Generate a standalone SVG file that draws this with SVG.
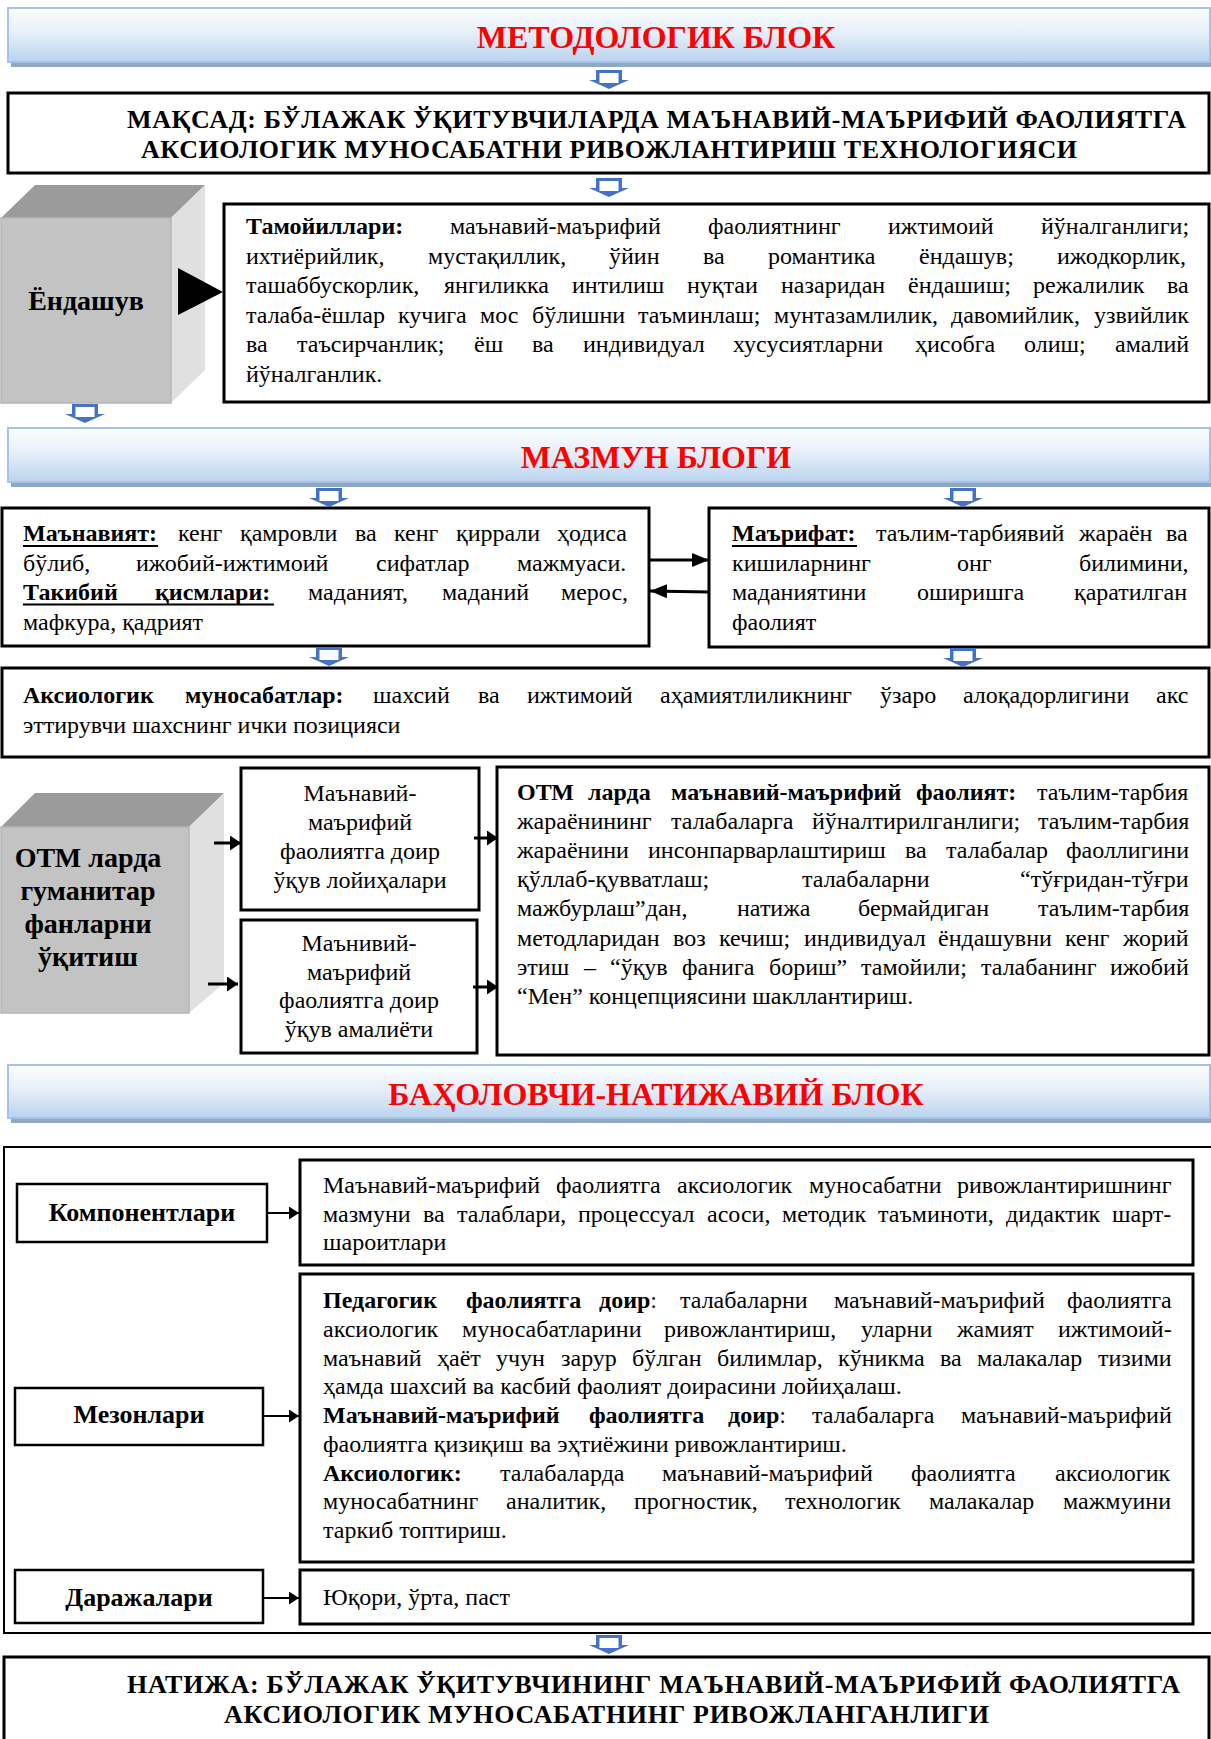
<svg xmlns="http://www.w3.org/2000/svg" width="1211" height="1739" viewBox="0 0 1211 1739">
<style>
text{font-family:"Liberation Serif","Times New Roman",serif;font-size:24px;fill:#000}
.b{font-weight:bold}
.h{font-size:26px;font-weight:bold}
.c{text-anchor:middle}
.ttl{font-size:32px;font-weight:bold;fill:#ff0000;text-anchor:middle}
.big{font-size:28px;font-weight:bold;text-anchor:middle}
.box{fill:#fff;stroke:#000;stroke-width:3}
.lb{fill:#fff;stroke:#000;stroke-width:2.5}
.ban{fill:url(#bg);stroke:#a3c4e8;stroke-width:2}
.sh{fill:#8fa8c2}
.ln{stroke:#000;stroke-width:3;fill:none}
.ln2{stroke:#000;stroke-width:2;fill:none}
.ul{stroke:#000;stroke-width:2}
.top{fill:#9b9b9b}
.front{fill:#c3c3c3;stroke:#b5b5b5;stroke-width:1.5}
.side{fill:#e0e0e0}
</style>
<defs>
<linearGradient id="bg" x1="0" y1="0" x2="0" y2="1">
<stop offset="0" stop-color="#fdfeff"/>
<stop offset="0.5" stop-color="#e3edf8"/>
<stop offset="1" stop-color="#bad3ee"/>
</linearGradient>
<g id="barrow"><path d="M-13,0H13V10H20L0,19L-20,10H-13Z" fill="#4472c4"/><rect x="-9.5" y="3" width="19" height="10" fill="#fff"/></g>
<marker id="m1" markerUnits="userSpaceOnUse" markerWidth="18" markerHeight="16" refX="17" refY="8" orient="auto"><path d="M0,1L17,8L0,15Z" fill="#000"/></marker>
<marker id="m2" markerUnits="userSpaceOnUse" markerWidth="12" markerHeight="15" refX="11" refY="7.5" orient="auto"><path d="M0,0L11,7.5L0,15Z" fill="#000"/></marker>
<marker id="m3" markerUnits="userSpaceOnUse" markerWidth="11" markerHeight="13" refX="10" refY="6.5" orient="auto"><path d="M0,0L10,6.5L0,13Z" fill="#000"/></marker>
</defs>
<rect width="1211" height="1739" fill="#fff"/>

<g id="banner-metodologik">
<rect class="sh" x="11" y="62" width="1200" height="5"/>
<rect class="ban" x="8" y="8" width="1202" height="54"/>
<text class="ttl" x="656" y="48">МЕТОДОЛОГИК БЛОК</text>
</g>

<g id="maqsad">
<rect class="box" x="8" y="93" width="1201" height="80"/>
<text class="h" x="127" y="128" textLength="1059" lengthAdjust="spacing">МАҚСАД: БЎЛАЖАК ЎҚИТУВЧИЛАРДА МАЪНАВИЙ-МАЪРИФИЙ ФАОЛИЯТГА</text>
<text class="h" x="141" y="158" textLength="936" lengthAdjust="spacing">АКСИОЛОГИК МУНОСАБАТНИ РИВОЖЛАНТИРИШ ТЕХНОЛОГИЯСИ</text>
</g>

<g id="yondashuv">
<polygon class="top" points="1,218 35,185 205,185 171,218"/>
<polygon class="side" points="171,218 205,185 205,370 171,403"/>
<rect class="front" x="1" y="218" width="170" height="185"/>
<text class="big" x="86" y="310">Ёндашув</text>
</g>

<g id="tamoyillari">
<rect class="box" x="224" y="204" width="985" height="198"/>
<text y="234"><tspan x="246" class="b">Тамойиллари:</tspan><tspan x="450">маънавий-маърифий</tspan><tspan x="708">фаолиятнинг</tspan><tspan x="888">ижтимоий</tspan><tspan x="1041">йўналганлиги;</tspan></text>
<text y="263.6"><tspan x="246">ихтиёрийлик,</tspan><tspan x="428">мустақиллик,</tspan><tspan x="609">ўйин</tspan><tspan x="703">ва</tspan><tspan x="768">романтика</tspan><tspan x="919">ёндашув;</tspan><tspan x="1057">ижодкорлик,</tspan></text>
<text y="293.2"><tspan x="246">ташаббускорлик,</tspan><tspan x="444">янгиликка</tspan><tspan x="572">интилиш</tspan><tspan x="687">нуқтаи</tspan><tspan x="781">назаридан</tspan><tspan x="908">ёндашиш;</tspan><tspan x="1033">режалилик</tspan><tspan x="1167">ва</tspan></text>
<text y="322.8"><tspan x="246">талаба-ёшлар</tspan><tspan x="398">кучига</tspan><tspan x="480">мос</tspan><tspan x="532">бўлишни</tspan><tspan x="638">таъминлаш;</tspan><tspan x="774">мунтазамлилик,</tspan><tspan x="951">давомийлик,</tspan><tspan x="1094">узвийлик</tspan></text>
<text y="352.4"><tspan x="246">ва</tspan><tspan x="297">таъсирчанлик;</tspan><tspan x="474">ёш</tspan><tspan x="532">ва</tspan><tspan x="583">индивидуал</tspan><tspan x="733">хусусиятларни</tspan><tspan x="915">ҳисобга</tspan><tspan x="1024">олиш;</tspan><tspan x="1115">амалий</tspan></text>
<text x="246" y="382">йўналганлик.</text>
</g>

<g id="banner-mazmun">
<rect class="sh" x="11" y="482" width="1200" height="5"/>
<rect class="ban" x="8" y="428" width="1202" height="54"/>
<text class="ttl" x="656" y="468">МАЗМУН БЛОГИ</text>
</g>

<g id="manaviyat">
<rect class="box" x="2" y="508" width="647" height="138"/>
<text y="541"><tspan x="23" class="b">Маънавият:</tspan><tspan x="178">кенг</tspan><tspan x="240">қамровли</tspan><tspan x="355">ва</tspan><tspan x="394">кенг</tspan><tspan x="456">қиррали</tspan><tspan x="557">ҳодиса</tspan></text>
<text y="570.6"><tspan x="23">бўлиб,</tspan><tspan x="136">ижобий-ижтимоий</tspan><tspan x="376">сифатлар</tspan><tspan x="517">мажмуаси.</tspan></text>
<text y="600.2"><tspan x="23" class="b">Такибий</tspan><tspan x="155" class="b">қисмлари:</tspan><tspan x="308">маданият,</tspan><tspan x="442">маданий</tspan><tspan x="561">мерос,</tspan></text>
<text x="23" y="629.8">мафкура, қадрият</text>
<line class="ul" x1="23" y1="546" x2="158" y2="546"/>
<line class="ul" x1="23" y1="604.5" x2="274" y2="604.5"/>
</g>

<g id="marifat">
<rect class="box" x="709" y="508" width="500" height="139"/>
<text y="541"><tspan x="732" class="b">Маърифат:</tspan><tspan x="876">таълим-тарбиявий</tspan><tspan x="1079">жараён</tspan><tspan x="1166">ва</tspan></text>
<text y="570.6"><tspan x="732">кишиларнинг</tspan><tspan x="957">онг</tspan><tspan x="1079">билимини,</tspan></text>
<text y="600.2"><tspan x="732">маданиятини</tspan><tspan x="917">оширишга</tspan><tspan x="1074">қаратилган</tspan></text>
<text x="732" y="629.8">фаолият</text>
<line class="ul" x1="732" y1="546" x2="857" y2="546"/>
</g>

<g id="aksiologik">
<rect class="box" x="2" y="668" width="1207" height="89"/>
<text y="703"><tspan x="23" class="b">Аксиологик</tspan><tspan x="185" class="b">муносабатлар:</tspan><tspan x="373">шахсий</tspan><tspan x="478">ва</tspan><tspan x="527">ижтимоий</tspan><tspan x="660">аҳамиятлиликнинг</tspan><tspan x="880">ўзаро</tspan><tspan x="963">алоқадорлигини</tspan><tspan x="1156">акс</tspan></text>
<text x="23" y="733">эттирувчи шахснинг ички позицияси</text>
</g>

<g id="otm-gumanitar">
<polygon class="top" points="1,827 35,793 224,793 189,827"/>
<polygon class="side" points="189,827 224,793 224,983 189,1013"/>
<rect class="front" x="1" y="827" width="188" height="186"/>
<text class="big" x="88" y="867">ОТМ ларда</text>
<text class="big" x="88" y="900">гуманитар</text>
<text class="big" x="88" y="933">фанларни</text>
<text class="big" x="88" y="966">ўқитиш</text>
</g>

<g id="uquv-loyihalari">
<rect class="box" x="241" y="768" width="238" height="142"/>
<text class="c" x="360" y="801">Маънавий-</text>
<text class="c" x="360" y="830">маърифий</text>
<text class="c" x="360" y="859">фаолиятга доир</text>
<text class="c" x="360" y="888">ўқув лойиҳалари</text>
</g>

<g id="uquv-amaliyoti">
<rect class="box" x="241" y="920" width="236" height="133"/>
<text class="c" x="359" y="951">Маънивий-</text>
<text class="c" x="359" y="980">маърифий</text>
<text class="c" x="359" y="1008">фаолиятга доир</text>
<text class="c" x="359" y="1037">ўқув амалиёти</text>
</g>

<g id="otm-faoliyat">
<rect class="box" x="497" y="767" width="712" height="288"/>
<text y="800"><tspan x="517" class="b">ОТМ</tspan><tspan x="588" class="b">ларда</tspan><tspan x="671" class="b">маънавий-маърифий</tspan><tspan x="916" class="b">фаолият:</tspan><tspan x="1037">таълим-тарбия</tspan></text>
<text y="829"><tspan x="517">жараёнининг</tspan><tspan x="671">талабаларга</tspan><tspan x="812">йўналтирилганлиги;</tspan><tspan x="1038">таълим-тарбия</tspan></text>
<text y="858"><tspan x="517">жараёнини</tspan><tspan x="648">инсонпарварлаштириш</tspan><tspan x="905">ва</tspan><tspan x="946">талабалар</tspan><tspan x="1066">фаоллигини</tspan></text>
<text y="887"><tspan x="517">қўллаб-қувватлаш;</tspan><tspan x="802">талабаларни</tspan><tspan x="1020">“тўғридан-тўғри</tspan></text>
<text y="916"><tspan x="517">мажбурлаш”дан,</tspan><tspan x="737">натижа</tspan><tspan x="858">бермайдиган</tspan><tspan x="1038">таълим-тарбия</tspan></text>
<text y="946"><tspan x="517">методларидан</tspan><tspan x="673">воз</tspan><tspan x="719">кечиш;</tspan><tspan x="804">индивидуал</tspan><tspan x="938">ёндашувни</tspan><tspan x="1065">кенг</tspan><tspan x="1123">жорий</tspan></text>
<text y="975"><tspan x="517">этиш</tspan><tspan x="584">–</tspan><tspan x="610">“ўқув</tspan><tspan x="682">фанига</tspan><tspan x="769">бориш”</tspan><tspan x="861">тамойили;</tspan><tspan x="981">талабанинг</tspan><tspan x="1110">ижобий</tspan></text>
<text x="517" y="1004">“Мен” концепциясини шакллантириш.</text>
</g>

<g id="banner-baholovchi">
<rect class="sh" x="11" y="1118" width="1200" height="5"/>
<rect class="ban" x="8" y="1065" width="1202" height="53"/>
<text class="ttl" x="656" y="1105">БАҲОЛОВЧИ-НАТИЖАВИЙ БЛОК</text>
</g>

<g id="baholash-frame">
<rect x="4" y="1147" width="1212" height="486" fill="none" stroke="#000" stroke-width="2"/>
</g>

<g id="komponentlari-label">
<rect class="lb" x="17" y="1184" width="250" height="58"/>
<text class="h c" x="142" y="1221">Компонентлари</text>
</g>
<g id="komponentlari">
<rect class="box" x="300" y="1160" width="893" height="105"/>
<text y="1193"><tspan x="323">Маънавий-маърифий</tspan><tspan x="556">фаолиятга</tspan><tspan x="677">аксиологик</tspan><tspan x="809">муносабатни</tspan><tspan x="957">ривожлантиришнинг</tspan></text>
<text y="1222"><tspan x="323">мазмуни</tspan><tspan x="423">ва</tspan><tspan x="457">талаблари,</tspan><tspan x="578">процессуал</tspan><tspan x="707">асоси,</tspan><tspan x="782">методик</tspan><tspan x="878">таъминоти,</tspan><tspan x="1006">дидактик</tspan><tspan x="1112">шарт-</tspan></text>
<text x="323" y="1250">шароитлари</text>
</g>

<g id="mezonlari-label">
<rect class="lb" x="15" y="1388" width="248" height="57"/>
<text class="h c" x="139" y="1423">Мезонлари</text>
</g>
<g id="mezonlari">
<rect class="box" x="300" y="1274" width="893" height="288"/>
<text y="1308"><tspan x="323" class="b">Педагогик</tspan><tspan x="466" class="b">фаолиятга</tspan><tspan x="599"><tspan class="b">доир</tspan>:</tspan><tspan x="680">талабаларни</tspan><tspan x="834">маънавий-маърифий</tspan><tspan x="1067">фаолиятга</tspan></text>
<text y="1336.75"><tspan x="323">аксиологик</tspan><tspan x="462">муносабатларини</tspan><tspan x="664">ривожлантириш,</tspan><tspan x="861">уларни</tspan><tspan x="957">жамият</tspan><tspan x="1058">ижтимоий-</tspan></text>
<text y="1365.5"><tspan x="323">маънавий</tspan><tspan x="437">ҳаёт</tspan><tspan x="496">учун</tspan><tspan x="561">зарур</tspan><tspan x="632">бўлган</tspan><tspan x="717">билимлар,</tspan><tspan x="838">кўникма</tspan><tspan x="940">ва</tspan><tspan x="977">малакалар</tspan><tspan x="1098">тизими</tspan></text>
<text x="323" y="1394.25">ҳамда шахсий ва касбий фаолият доирасини лойиҳалаш.</text>
<text y="1423"><tspan x="323" class="b">Маънавий-маърифий</tspan><tspan x="589" class="b">фаолиятга</tspan><tspan x="728"><tspan class="b">доир</tspan>:</tspan><tspan x="812">талабаларга</tspan><tspan x="961">маънавий-маърифий</tspan></text>
<text x="323" y="1451.75">фаолиятга қизиқиш ва эҳтиёжини ривожлантириш.</text>
<text y="1480.5"><tspan x="323" class="b">Аксиологик:</tspan><tspan x="500">талабаларда</tspan><tspan x="662">маънавий-маърифий</tspan><tspan x="911">фаолиятга</tspan><tspan x="1055">аксиологик</tspan></text>
<text y="1509.25"><tspan x="323">муносабатнинг</tspan><tspan x="506">аналитик,</tspan><tspan x="634">прогностик,</tspan><tspan x="785">технологик</tspan><tspan x="929">малакалар</tspan><tspan x="1063">мажмуини</tspan></text>
<text x="323" y="1538">таркиб топтириш.</text>
</g>

<g id="darajalari-label">
<rect class="lb" x="15" y="1570" width="248" height="53"/>
<text class="h c" x="139" y="1606">Даражалари</text>
</g>
<g id="darajalari">
<rect class="box" x="300" y="1570" width="893" height="54"/>
<text x="323" y="1605">Юқори, ўрта, паст</text>
</g>

<g id="natija">
<rect class="box" x="4" y="1657" width="1205" height="95"/>
<text class="h" x="127" y="1693" textLength="1053" lengthAdjust="spacing">НАТИЖА: БЎЛАЖАК ЎҚИТУВЧИНИНГ МАЪНАВИЙ-МАЪРИФИЙ ФАОЛИЯТГА</text>
<text class="h" x="224" y="1723" textLength="765" lengthAdjust="spacing">АКСИОЛОГИК МУНОСАБАТНИНГ РИВОЖЛАНГАНЛИГИ</text>
</g>

<g id="connectors">
<use href="#barrow" x="609" y="70"/>
<use href="#barrow" x="609" y="178"/>
<use href="#barrow" x="85" y="404"/>
<use href="#barrow" x="329" y="488"/>
<use href="#barrow" x="963" y="488"/>
<use href="#barrow" x="329" y="647"/>
<use href="#barrow" x="963" y="648"/>
<use href="#barrow" x="609" y="1635"/>
<polygon points="178,268 178,315 223,292" fill="#000"/>
<line class="ln" x1="650" y1="560" x2="709" y2="560" marker-end="url(#m1)"/>
<line class="ln" x1="709" y1="592" x2="650" y2="591" marker-end="url(#m1)"/>
<line class="ln" x1="214" y1="843" x2="241" y2="843" marker-end="url(#m2)"/>
<line class="ln" x1="208" y1="984" x2="238" y2="984" marker-end="url(#m2)"/>
<line class="ln" x1="474" y1="838" x2="498" y2="838" marker-end="url(#m2)"/>
<line class="ln" x1="473" y1="987" x2="498" y2="987" marker-end="url(#m2)"/>
<line class="ln2" x1="267" y1="1213" x2="299" y2="1213" marker-end="url(#m3)"/>
<line class="ln2" x1="264" y1="1416" x2="299" y2="1416" marker-end="url(#m3)"/>
<line class="ln2" x1="264" y1="1598" x2="299" y2="1598" marker-end="url(#m3)"/>
</g>
</svg>
